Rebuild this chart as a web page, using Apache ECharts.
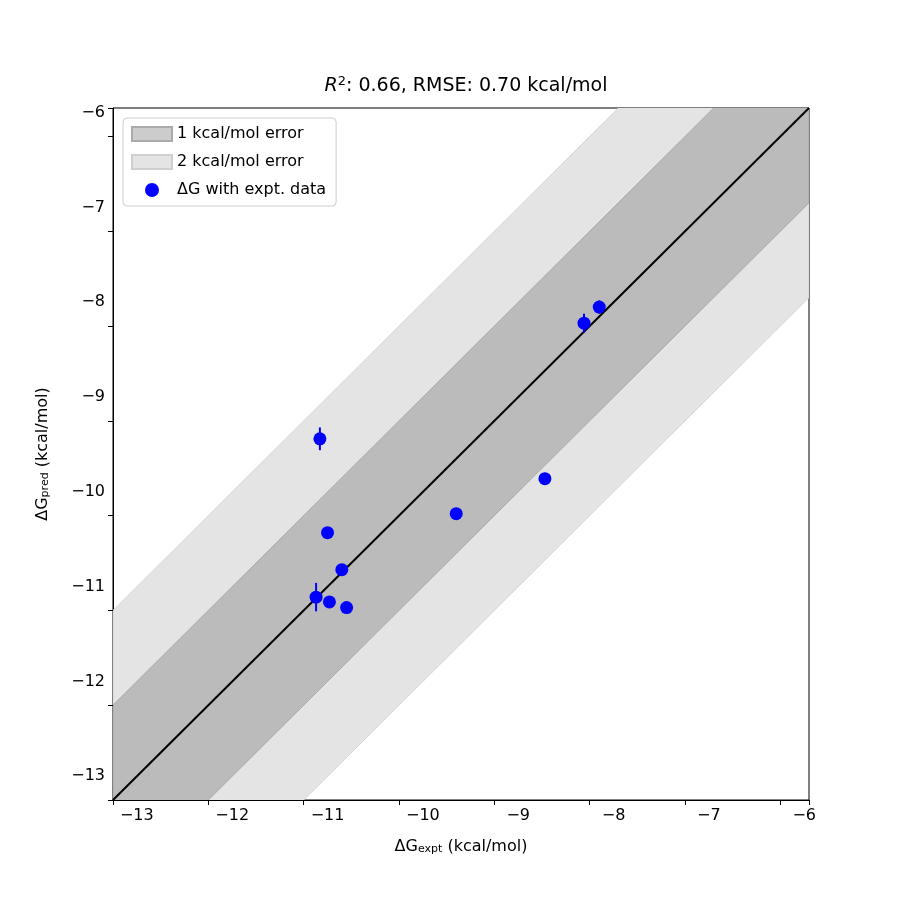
<!DOCTYPE html>
<html>
<head>
<meta charset="utf-8">
<script src="https://cdn.jsdelivr.net/npm/echarts@6/dist/echarts.min.js"></script>
<style>html,body{margin:0;padding:0;background:#fff}#main{width:900px;height:900px}</style>
</head>
<body>
<div id="main"></div>
<script>
// experimental vs predicted free energies (kcal/mol)
var exptVals = [-11.08, -11.00, -10.85, -11.12, -10.98, -10.80, -9.65, -8.72, -8.31, -8.15];
var predVals = [-9.44, -10.43, -10.82, -11.11, -11.16, -11.22, -10.23, -9.86, -8.22, -8.05];
var predErr = [0.12, 0.04, 0.04, 0.15, 0.04, 0.04, 0.06, 0.03, 0.10, 0.07];
var axisMin = -13.25, axisMax = -5.95;
var xTicks = [-13, -12, -11, -10, -9, -8, -7, -6];

var points = exptVals.map(function (x, i) { return [x, predVals[i]]; });
var errData = exptVals.map(function (x, i) { return [x, predVals[i], predErr[i]]; });

function band(w) {
  return [[axisMin, axisMin - w], [axisMax, axisMax - w], [axisMax, axisMax + w], [axisMin, axisMin + w]];
}
function polyItem(pts, color, stroke) {
  return function (params, api) {
    if (params.dataIndex > 0) return null;
    return {
      type: 'polygon',
      shape: { points: pts.map(function (p) { return api.coord(p); }) },
      style: { fill: color, stroke: stroke, lineWidth: 1 }
    };
  };
}

var myChart = echarts.init(document.getElementById('main'));
var axisCommon = {
  type: 'value', min: axisMin, max: axisMax, interval: 1,
  splitLine: { show: false },
  axisLine: { show: true, onZero: false, lineStyle: { color: '#000' } },
  axisTick: { show: true, length: 5, lineStyle: { color: '#000' } },
  axisLabel: {
    color: '#000', fontSize: 16, fontFamily: 'DejaVu Sans',
    formatter: function (v) { return xTicks.indexOf(v) >= 0 ? String(v).replace('-', '\u2212') : ''; },
    customValues: xTicks
  },
  nameTextStyle: { color: '#000', fontSize: 16, fontFamily: 'DejaVu Sans' }
};
myChart.setOption({
  animation: false,
  textStyle: { fontFamily: 'DejaVu Sans' },
  title: {
    text: '{i|R}{s|2}: 0.66, RMSE: 0.70 kcal/mol',
    left: 461, top: 70, textAlign: 'center',
    textStyle: {
      fontSize: 19, fontWeight: 'normal', color: '#000',
      rich: {
        i: { fontSize: 19, fontStyle: 'italic', color: '#000' },
        s: { fontSize: 13, verticalAlign: 'top', padding: [0, 0, 10, 0], color: '#000' }
      }
    }
  },
  grid: { left: 113, right: 91, top: 108, bottom: 100, show: true, borderColor: '#000', borderWidth: 1 },
  legend: {
    left: 123, top: 118, orient: 'vertical', itemGap: 12,
    backgroundColor: '#fff', borderColor: '#ccc', borderWidth: 1, borderRadius: 4,
    padding: [8, 10, 8, 8], itemWidth: 40, itemHeight: 14,
    textStyle: { fontSize: 16, color: '#000' },
    data: [
      { name: '1 kcal/mol error', icon: 'rect' },
      { name: '2 kcal/mol error', icon: 'rect' },
      { name: '\u0394G with expt. data', icon: 'circle', itemStyle: { color: '#0000ff' } }
    ]
  },
  xAxis: Object.assign({}, axisCommon, {
    name: '\u0394G{sub|expt} (kcal/mol)', nameLocation: 'middle', nameGap: 38,
    nameTextStyle: { color: '#000', fontSize: 16, rich: { sub: { fontSize: 11, verticalAlign: 'bottom', padding: [6, 0, 0, 0] } } }
  }),
  yAxis: Object.assign({}, axisCommon, {
    name: '\u0394G{sub|pred} (kcal/mol)', nameLocation: 'middle', nameGap: 62,
    nameTextStyle: { color: '#000', fontSize: 16, rich: { sub: { fontSize: 11, verticalAlign: 'bottom', padding: [6, 0, 0, 0] } } }
  }),
  series: [
    { name: '2 kcal/mol error', type: 'custom', clip: true, data: [[axisMin, axisMin]],
      itemStyle: { color: '#e4e4e4', borderColor: '#cfcfcf', borderWidth: 1 },
      renderItem: polyItem(band(2), '#e4e4e4', '#d6d6d6'), z: 1 },
    { name: '1 kcal/mol error', type: 'custom', clip: true, data: [[axisMin, axisMin]],
      itemStyle: { color: '#cccccc', borderColor: '#aaaaaa', borderWidth: 1 },
      renderItem: polyItem(band(1), '#bbbbbb', '#aaaaaa'), z: 2 },
    { type: 'line', data: [[axisMin, axisMin], [axisMax, axisMax]], symbol: 'none',
      lineStyle: { color: '#000', width: 2 }, z: 3, silent: true },
    { name: '\u0394G with expt. data', type: 'custom', data: errData, z: 4,
      renderItem: function (params, api) {
        var a = api.coord([api.value(0), api.value(1) - api.value(2)]);
        var b = api.coord([api.value(0), api.value(1) + api.value(2)]);
        return { type: 'line', shape: { x1: a[0], y1: a[1], x2: b[0], y2: b[1] }, style: { stroke: '#0000ff', lineWidth: 2 } };
      } },
    { name: '\u0394G with expt. data', type: 'scatter', data: points, symbolSize: 13,
      itemStyle: { color: '#0000ff', opacity: 1 }, z: 5 }
  ]
});
</script>
</body>
</html>
